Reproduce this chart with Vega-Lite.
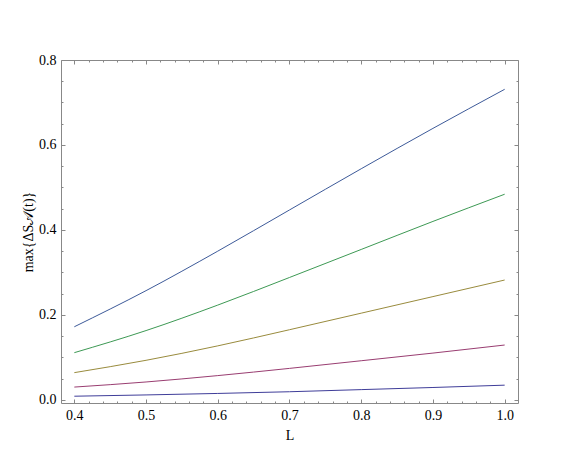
{
  "$schema": "https://vega.github.io/schema/vega-lite/v6.json",
  "autosize": {"type": "none"},
  "padding": {"left": 61, "top": 60, "right": 60, "bottom": 61},
  "width": 457,
  "height": 343,
  "background": "white",
  "config": {
    "view": {"stroke": null},
    "font": "Liberation Serif",
    "axis": {
      "grid": false,
      "domainColor": "#888888",
      "tickColor": "#888888",
      "labelColor": "black",
      "labelFont": "Liberation Serif",
      "labelFontSize": 14,
      "titleFont": "Liberation Serif",
      "titleFontSize": 14,
      "titleFontWeight": "normal",
      "titleColor": "black"
    }
  },
  "data": {
    "values": [
      {"L": 0.4, "v": 0.0085, "s": "1"}, {"L": 0.5, "v": 0.0115, "s": "1"}, {"L": 0.6, "v": 0.0150, "s": "1"}, {"L": 0.7, "v": 0.0190, "s": "1"}, {"L": 0.8, "v": 0.0240, "s": "1"}, {"L": 0.9, "v": 0.0290, "s": "1"}, {"L": 1.0, "v": 0.0345, "s": "1"},
      {"L": 0.4, "v": 0.030, "s": "2"}, {"L": 0.5, "v": 0.042, "s": "2"}, {"L": 0.6, "v": 0.057, "s": "2"}, {"L": 0.7, "v": 0.074, "s": "2"}, {"L": 0.8, "v": 0.092, "s": "2"}, {"L": 0.9, "v": 0.110, "s": "2"}, {"L": 1.0, "v": 0.129, "s": "2"},
      {"L": 0.4, "v": 0.064, "s": "3"}, {"L": 0.5, "v": 0.093, "s": "3"}, {"L": 0.6, "v": 0.127, "s": "3"}, {"L": 0.7, "v": 0.165, "s": "3"}, {"L": 0.8, "v": 0.204, "s": "3"}, {"L": 0.9, "v": 0.243, "s": "3"}, {"L": 1.0, "v": 0.282, "s": "3"},
      {"L": 0.4, "v": 0.111, "s": "4"}, {"L": 0.5, "v": 0.163, "s": "4"}, {"L": 0.6, "v": 0.223, "s": "4"}, {"L": 0.7, "v": 0.288, "s": "4"}, {"L": 0.8, "v": 0.354, "s": "4"}, {"L": 0.9, "v": 0.420, "s": "4"}, {"L": 1.0, "v": 0.484, "s": "4"},
      {"L": 0.4, "v": 0.172, "s": "5"}, {"L": 0.5, "v": 0.257, "s": "5"}, {"L": 0.6, "v": 0.350, "s": "5"}, {"L": 0.7, "v": 0.447, "s": "5"}, {"L": 0.8, "v": 0.544, "s": "5"}, {"L": 0.9, "v": 0.639, "s": "5"}, {"L": 1.0, "v": 0.731, "s": "5"}
    ]
  },
  "layer": [
    {
      "mark": {"type": "line", "strokeWidth": 1, "interpolate": "monotone"},
      "encoding": {
        "x": {
          "field": "L", "type": "quantitative",
          "scale": {"domain": [0.3814, 1.0186], "nice": false, "zero": false},
          "axis": {
            "orient": "bottom",
            "title": "L",
            "values": [0.4,0.42,0.44,0.46,0.48,0.5,0.52,0.54,0.56,0.58,0.6,0.62,0.64,0.66,0.68,0.7,0.72,0.74,0.76,0.78,0.8,0.82,0.84,0.86,0.88,0.9,0.92,0.94,0.96,0.98,1.0],
            "labelExpr": "abs(datum.value*10 - round(datum.value*10)) < 0.001 ? format(datum.value, '.1f') : ''",
            "tickSize": {"condition": {"test": "abs(datum.value*10 - round(datum.value*10)) < 0.001", "value": -4}, "value": -2},
            "labelPadding": 9,
            "titlePadding": 6,
            "labelFlush": false
          }
        },
        "y": {
          "field": "v", "type": "quantitative",
          "scale": {"domain": [-0.0075, 0.8], "nice": false, "zero": false},
          "axis": {
            "orient": "left",
            "title": "max{ΔS𝒜(t)}",
            "values": [0,0.05,0.1,0.15,0.2,0.25,0.3,0.35,0.4,0.45,0.5,0.55,0.6,0.65,0.7,0.75,0.8],
            "labelExpr": "abs(datum.value*5 - round(datum.value*5)) < 0.001 ? format(datum.value, '.1f') : ''",
            "tickSize": {"condition": {"test": "abs(datum.value*5 - round(datum.value*5)) < 0.001", "value": -4}, "value": -2},
            "labelPadding": 9,
            "titlePadding": 3,
            "labelFlush": false
          }
        },
        "color": {
          "field": "s", "type": "nominal",
          "scale": {"domain": ["1","2","3","4","5"], "range": ["#3f3d99","#993d71","#998b3d","#3d9954","#3d5a99"]},
          "legend": null
        }
      }
    },
    {
      "mark": {"type": "line", "opacity": 0},
      "encoding": {
        "x": {
          "field": "L", "type": "quantitative",
          "axis": {
            "orient": "top",
            "title": null,
            "labels": false,
            "values": [0.4,0.42,0.44,0.46,0.48,0.5,0.52,0.54,0.56,0.58,0.6,0.62,0.64,0.66,0.68,0.7,0.72,0.74,0.76,0.78,0.8,0.82,0.84,0.86,0.88,0.9,0.92,0.94,0.96,0.98,1.0],
            "tickSize": {"condition": {"test": "abs(datum.value*10 - round(datum.value*10)) < 0.001", "value": -4}, "value": -2}
          }
        },
        "y": {
          "field": "v", "type": "quantitative",
          "axis": {
            "orient": "right",
            "title": null,
            "labels": false,
            "values": [0,0.05,0.1,0.15,0.2,0.25,0.3,0.35,0.4,0.45,0.5,0.55,0.6,0.65,0.7,0.75,0.8],
            "tickSize": {"condition": {"test": "abs(datum.value*5 - round(datum.value*5)) < 0.001", "value": -4}, "value": -2}
          }
        },
        "detail": {"field": "s", "type": "nominal"}
      }
    }
  ],
  "resolve": {"axis": {"x": "independent", "y": "independent"}}
}
